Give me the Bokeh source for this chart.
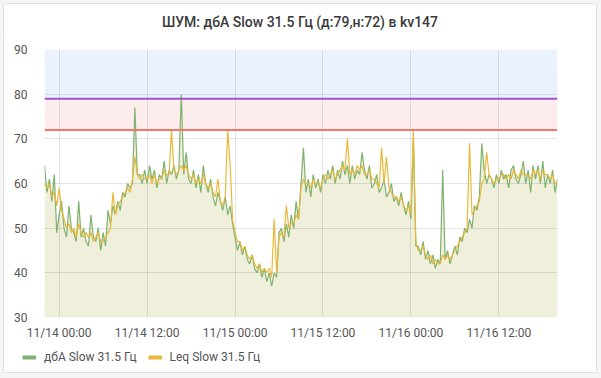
import pandas as pd
from bokeh.plotting import figure
from bokeh.layouts import column
from bokeh.models import (ColumnDataSource, BoxAnnotation, Span, Legend, LegendItem,
                          DatetimeTickFormatter, FixedTicker, Range1d, Div)
from bokeh.embed import file_html
from bokeh.resources import INLINE

TITLE = "ШУМ: дбА Slow 31.5 Гц (д:79,н:72) в kv147"
NAME_DBA = "дбА Slow 31.5 Гц"
NAME_LEQ = "Leq Slow 31.5 Гц"
START = "2023-11-13 22:00"
STEP = "20min"
DAY_LIMIT = 79
NIGHT_LIMIT = 72
Y_MIN, Y_MAX = 30, 90
Y_TICKS = [30, 40, 50, 60, 70, 80, 90]
X_TICKS = ["2023-11-14 00:00", "2023-11-14 12:00", "2023-11-15 00:00",
           "2023-11-15 12:00", "2023-11-16 00:00", "2023-11-16 12:00"]

dba = [
    64, 58, 61, 56, 62, 49,
    53, 56, 50, 48, 55, 50, 49, 47, 56, 48, 50, 47, 46, 53, 48, 47, 50, 45,
    49, 46, 54, 51, 55, 53, 56, 54, 58, 57, 60, 59, 60, 77, 62, 62, 60, 63,
    60, 64, 61, 63, 59, 62, 61, 65, 60, 63, 62, 64, 61, 63, 80, 62, 67, 61,
    60, 63, 59, 62, 58, 64, 60, 58, 61, 57, 55, 58, 56, 54, 57, 53, 55, 51,
    48, 45, 47, 44, 46, 43, 42, 44, 41, 40, 42, 39, 41, 38, 40, 37, 40, 39,
    49, 50, 47, 51, 48, 53, 50, 56, 52, 60, 68, 58, 61, 57, 62, 59, 61, 58,
    62, 60, 63, 61, 64, 60, 63, 61, 65, 62, 64, 60, 64, 61, 63, 62, 67, 63,
    61, 64, 59, 60, 62, 58, 59, 61, 57, 58, 60, 56, 57, 55, 58, 55, 53, 56,
    52, 70, 46, 46, 44, 47, 43, 45, 42, 44, 41, 43, 42, 63, 43, 45, 42, 44,
    46, 44, 48, 47, 50, 49, 52, 50, 55, 54, 57, 69, 63, 60, 62, 61, 59, 62,
    60, 63, 61, 62, 59, 63, 64, 61, 60, 62, 65, 60, 63, 58, 64, 61, 64, 60,
    65, 59, 62, 60, 63, 58, 61,
]

leq = [
    60, 59, 60, 57, 58, 55,
    59, 54, 52, 50, 51, 49, 50, 48, 51, 49, 48, 49, 48, 49, 47, 48, 49, 47,
    47, 48, 49, 50, 58, 53, 55, 56, 57, 58, 59, 58, 61, 66, 62, 61, 62, 61,
    61, 62, 60, 62, 60, 61, 61, 63, 62, 62, 72, 63, 62, 63, 64, 63, 64, 62,
    61, 62, 60, 61, 60, 62, 60, 59, 60, 58, 57, 61, 56, 55, 57, 72, 64, 52,
    49, 47, 47, 45, 46, 44, 43, 44, 42, 41, 42, 40, 41, 40, 41, 39, 52, 40,
    48, 49, 48, 55, 50, 51, 51, 53, 52, 59, 61, 60, 60, 59, 61, 60, 60, 59,
    61, 62, 61, 62, 63, 61, 62, 63, 64, 63, 70, 62, 63, 62, 64, 63, 64, 62,
    62, 63, 61, 61, 60, 59, 68, 60, 66, 59, 58, 57, 57, 56, 57, 55, 54, 55,
    53, 72, 47, 45, 45, 46, 44, 43, 44, 42, 43, 42, 42, 44, 43, 44, 43, 44,
    45, 46, 47, 48, 49, 50, 69, 53, 54, 55, 56, 60, 61, 67, 62, 61, 60, 61,
    61, 62, 62, 61, 62, 61, 63, 62, 61, 63, 62, 62, 62, 61, 63, 62, 63, 61,
    63, 62, 62, 61, 62, 60, 60,
]

GREEN = "#7EB26D"
YELLOW = "#EAB839"
FILL = "#F0EFDC"
FONT = "Roboto"
LABEL_COLOR = "#555555"

times = pd.date_range(START, periods=len(dba), freq=STEP)
src = ColumnDataSource(dict(t=times, dba=dba, leq=leq))

title_div = Div(text=('<div style="width:592px;padding-top:8px;text-align:center;'
                      'font-family:Roboto;font-size:14px;font-weight:500;color:#3A3A3A;'
                      'white-space:nowrap">' + TITLE + '</div>'),
                width=592, height=26, margin=0)

p = figure(width=592, height=312, x_axis_type="datetime",
           output_backend="svg", toolbar_location=None,
           x_range=Range1d(times[0], times[-1]), y_range=Range1d(Y_MIN, Y_MAX),
           min_border_left=40, min_border_right=39, min_border_top=19, min_border_bottom=23)

p.outline_line_color = None
p.background_fill_color = "white"
p.border_fill_color = "white"

# threshold bands
p.add_layout(BoxAnnotation(bottom=DAY_LIMIT, fill_color="#EAF2FD", fill_alpha=1,
                           line_color=None, level="image"))
p.add_layout(BoxAnnotation(bottom=NIGHT_LIMIT, top=DAY_LIMIT, fill_color="#FCECEC",
                           fill_alpha=1, line_color=None, level="image"))

p.varea(x="t", y1=Y_MIN, y2="dba", source=src, fill_color=FILL, fill_alpha=1, level="image")

p.line(x="t", y="dba", source=src, line_color=GREEN, line_width=1.2)
p.line(x="t", y="leq", source=src, line_color=YELLOW, line_width=1.2)

p.add_layout(Span(location=DAY_LIMIT, dimension="width", line_color="#A052CC", line_width=2))
p.add_layout(Span(location=NIGHT_LIMIT, dimension="width", line_color="#F2786B", line_width=2))

# axes
xt = [int(v) for v in (pd.to_datetime(X_TICKS).astype("int64") // 10**6)]
p.xaxis.ticker = FixedTicker(ticks=xt)
p.xgrid.ticker = FixedTicker(ticks=xt)
fmt = "%m/%d %H:%M"
p.xaxis.formatter = DatetimeTickFormatter(minutes=fmt, hourmin=fmt, hours=fmt, days=fmt,
                                          months=fmt, years=fmt)
p.yaxis.ticker = FixedTicker(ticks=Y_TICKS)
p.ygrid.ticker = FixedTicker(ticks=Y_TICKS)

for ax in (p.xaxis, p.yaxis):
    ax.axis_line_color = None
    ax.major_tick_line_color = None
    ax.minor_tick_line_color = None
    ax.major_tick_out = 0
    ax.major_tick_in = 0
    ax.major_label_text_font = FONT
    ax.major_label_text_font_size = "12px"
    ax.major_label_text_color = LABEL_COLOR
p.yaxis.major_label_standoff = 17
p.xaxis.major_label_standoff = 8

for g in (p.xgrid, p.ygrid):
    g.grid_line_color = "black"
    g.grid_line_alpha = 0.1

# legend strip (separate figure so the legend can sit left of the plot frame)
lf = figure(width=592, height=30, output_backend="svg", toolbar_location=None,
            x_range=Range1d(0, 1), y_range=Range1d(0, 1),
            x_axis_location=None, y_axis_location=None, frame_align=False,
            min_border_left=0, min_border_right=0, min_border_top=0, min_border_bottom=0)
lf.grid.visible = False
lf.outline_line_color = None
lf.background_fill_color = "white"
lf.border_fill_color = "white"
nan = float("nan")
lg1 = lf.line(x=[nan], y=[nan], line_color=GREEN, line_width=4)
lg2 = lf.line(x=[nan], y=[nan], line_color=YELLOW, line_width=4)
legend = Legend(items=[LegendItem(label=NAME_DBA, renderers=[lg1]),
                       LegendItem(label=NAME_LEQ, renderers=[lg2])],
                orientation="horizontal", location=(18, 8),
                glyph_width=14, glyph_height=12, label_standoff=8, spacing=11,
                padding=0, margin=0, border_line_color=None, background_fill_alpha=0,
                label_text_font=FONT, label_text_font_size="12px",
                label_text_color=LABEL_COLOR)
lf.add_layout(legend)

layout = column(title_div, p, lf, spacing=0,
                styles={"margin": "3px", "border": "1px solid #E2E2E2",
                        "border-radius": "3px", "background-color": "white",
                        "box-shadow": "0 0 0 8px #F4F5F5"})

open("out.html", "w").write(file_html(layout, INLINE))
